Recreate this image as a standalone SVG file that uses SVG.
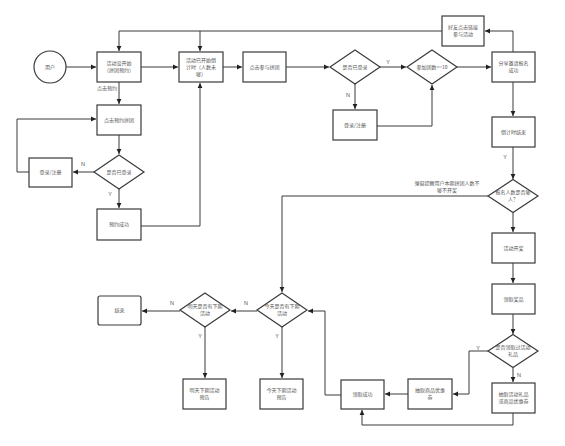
<svg xmlns="http://www.w3.org/2000/svg" width="565" height="446" viewBox="0 0 565 446">
<style>
.b{fill:#fff;stroke:#3a3a3a;stroke-width:1.2}
.t{font-family:"Noto Sans CJK SC","Liberation Sans",sans-serif;font-size:5px;fill:#555;text-anchor:middle}
.l{font-family:"Liberation Sans","Noto Sans CJK SC",sans-serif;font-size:5.5px;fill:#555;text-anchor:middle}
.m{font-family:"Noto Sans CJK SC","Liberation Sans",sans-serif;font-size:5px;fill:#555;text-anchor:middle}
.c{fill:none;stroke:#3a3a3a;stroke-width:1}
</style>
<defs>
<marker id="a" markerUnits="userSpaceOnUse" markerWidth="6" markerHeight="6" refX="5" refY="3" orient="auto"><path d="M0,0.6 L5,3 L0,5.4 Z" fill="#222"/></marker>
</defs>
<rect width="565" height="446" fill="#fff"/>
<g id="connectors">
<path class="c" d="M66,67 H96" marker-end="url(#a)"/>
<path class="c" d="M141,67 H178" marker-end="url(#a)"/>
<path class="c" d="M223,67 H242" marker-end="url(#a)"/>
<path class="c" d="M286,67 H329" marker-end="url(#a)"/>
<path class="c" d="M380,67 H406" marker-end="url(#a)"/>
<path class="c" d="M457,67 H491" marker-end="url(#a)"/>
<path class="c" d="M355,84 V109" marker-end="url(#a)"/>
<path class="c" d="M377,126 H432 V85" marker-end="url(#a)"/>
<path class="c" d="M513,52 V31 H485" marker-end="url(#a)"/>
<path class="c" d="M442,31 H119 V51" marker-end="url(#a)"/>
<path class="c" d="M200,31 V51" marker-end="url(#a)"/>
<path class="c" d="M513,82 V116" marker-end="url(#a)"/>
<path class="c" d="M513,147 V179" marker-end="url(#a)"/>
<path class="c" d="M488,196 H282 V292" marker-end="url(#a)"/>
<path class="c" d="M513,213 V232" marker-end="url(#a)"/>
<path class="c" d="M513,263 V283" marker-end="url(#a)"/>
<path class="c" d="M513,314 V334" marker-end="url(#a)"/>
<path class="c" d="M488,351 H469 V394 H453" marker-end="url(#a)"/>
<path class="c" d="M513,368 V382" marker-end="url(#a)"/>
<path class="c" d="M408,394 H385" marker-end="url(#a)"/>
<path class="c" d="M513,413 V425 H362 V410" marker-end="url(#a)"/>
<path class="c" d="M341,395 H325 V311 H308" marker-end="url(#a)"/>
<path class="c" d="M257,311 H231" marker-end="url(#a)"/>
<path class="c" d="M180,311 H142" marker-end="url(#a)"/>
<path class="c" d="M205,327 V378" marker-end="url(#a)"/>
<path class="c" d="M282,327 V378" marker-end="url(#a)"/>
<path class="c" d="M119,82 V104" marker-end="url(#a)"/>
<path class="c" d="M119,135 V154" marker-end="url(#a)"/>
<path class="c" d="M94,172 H73" marker-end="url(#a)"/>
<path class="c" d="M29,172 H17 V119 H96" marker-end="url(#a)"/>
<path class="c" d="M119,189 V208" marker-end="url(#a)"/>
<path class="c" d="M141,226 H200 V83" marker-end="url(#a)"/>
<text class="m" x="107" y="90">点击预约</text>
<text class="l" x="388" y="64">Y</text>
<text class="l" x="348" y="97">N</text>
<text class="l" x="505" y="159">Y</text>
<text class="m" x="447" y="185">弹窗提醒用户本期拼团人数不</text>
<text class="m" x="447" y="191.5">够不开奖</text>
<text class="l" x="478" y="350">Y</text>
<text class="l" x="519" y="377">N</text>
<text class="l" x="246" y="305">N</text>
<text class="l" x="172" y="305">N</text>
<text class="l" x="200" y="338">Y</text>
<text class="l" x="277" y="338">Y</text>
<text class="l" x="83" y="166">N</text>
<text class="l" x="110" y="196">Y</text>
</g>
<g id="n_user"><circle class="b" cx="50" cy="67" r="16"/><text class="t" x="50" y="69">用户</text></g>
<g id="n_notstarted"><rect class="b" x="97" y="52" width="44" height="30"/><text class="t" x="119" y="65">活动没开始</text><text class="t" x="119" y="72">（拼团预约）</text></g>
<g id="n_started"><rect class="b" x="179" y="52" width="44" height="30"/><text class="t" x="201" y="62">活动已开始倒</text><text class="t" x="201" y="69">计时（人数未</text><text class="t" x="201" y="76">够）</text></g>
<g id="n_join"><rect class="b" x="243" y="52" width="43" height="30"/><text class="t" x="264.5" y="69">点击参与拼团</text></g>
<g id="n_reserve"><rect class="b" x="97" y="105" width="44" height="30"/><text class="t" x="119" y="122">点击预约拼团</text></g>
<g id="n_login1"><polygon class="b" points="119,155 144,172 119,189 94,172"/><text class="t" x="119" y="174">是否已登录</text></g>
<g id="n_reg1"><rect class="b" x="29" y="158" width="43" height="29"/><text class="t" x="50.5" y="174">登录/注册</text></g>
<g id="n_reserved"><rect class="b" x="97" y="209" width="44" height="31"/><text class="t" x="119" y="226">预约成功</text></g>
<g id="n_login2"><polygon class="b" points="355,50 380,67 355,84 330,67"/><text class="t" x="355" y="69">是否已登录</text></g>
<g id="n_count"><polygon class="b" points="432,50 457,67 432,84 407,67"/><text class="t" x="432" y="69">参加团数&lt;=10</text></g>
<g id="n_reg2"><rect class="b" x="333" y="110" width="44" height="30"/><text class="t" x="355" y="127">登录/注册</text></g>
<g id="n_friend"><rect class="b" x="442" y="16" width="42" height="30"/><text class="t" x="463" y="29">好友点击链接</text><text class="t" x="463" y="36">参与活动</text></g>
<g id="n_share"><rect class="b" x="492" y="52" width="43" height="30"/><text class="t" x="513.5" y="65">分享邀请报名</text><text class="t" x="513.5" y="72">成功</text></g>
<g id="n_countdown"><rect class="b" x="492" y="117" width="43" height="30"/><text class="t" x="513.5" y="134">倒计时结束</text></g>
<g id="n_enough"><polygon class="b" points="513,179.5 538,196 513,212.5 488,196"/><text class="t" x="513" y="194">报名人数是否够</text><text class="t" x="513" y="201">人？</text></g>
<g id="n_draw"><rect class="b" x="492" y="233" width="43" height="30"/><text class="t" x="513.5" y="250">活动开奖</text></g>
<g id="n_prize"><rect class="b" x="492" y="284" width="43" height="30"/><text class="t" x="513.5" y="301">领取奖品</text></g>
<g id="n_got"><polygon class="b" points="513,334.5 538,351 513,367.5 488,351"/><text class="t" x="513" y="349">是否领取过活动</text><text class="t" x="513" y="356">礼品</text></g>
<g id="n_gift"><rect class="b" x="492" y="383" width="43" height="30"/><text class="t" x="513.5" y="396">抽取活动礼品</text><text class="t" x="513.5" y="403">或商品优惠券</text></g>
<g id="n_coupon"><rect class="b" x="408" y="379" width="44" height="30"/><text class="t" x="430" y="392">抽取商品优惠</text><text class="t" x="430" y="399">券</text></g>
<g id="n_success"><rect class="b" x="341" y="380" width="43" height="29"/><text class="t" x="362.5" y="396">领取成功</text></g>
<g id="n_today"><polygon class="b" points="282,293 307,310 282,327 257,310"/><text class="t" x="282" y="308">今天是否有下期</text><text class="t" x="282" y="315">活动</text></g>
<g id="n_tomorrow"><polygon class="b" points="205,293 230,310 205,327 180,310"/><text class="t" x="205" y="308">明天是否有下期</text><text class="t" x="205" y="315">活动</text></g>
<g id="n_end"><rect class="b" x="98" y="296" width="43" height="29" rx="2"/><text class="t" x="119.5" y="312">结束</text></g>
<g id="n_tmr_notice"><rect class="b" x="183" y="379" width="43" height="30"/><text class="t" x="204.5" y="392">明天下期活动</text><text class="t" x="204.5" y="399">预告</text></g>
<g id="n_today_notice"><rect class="b" x="260" y="379" width="43" height="30"/><text class="t" x="281.5" y="392">今天下期活动</text><text class="t" x="281.5" y="399">预告</text></g>
</svg>
